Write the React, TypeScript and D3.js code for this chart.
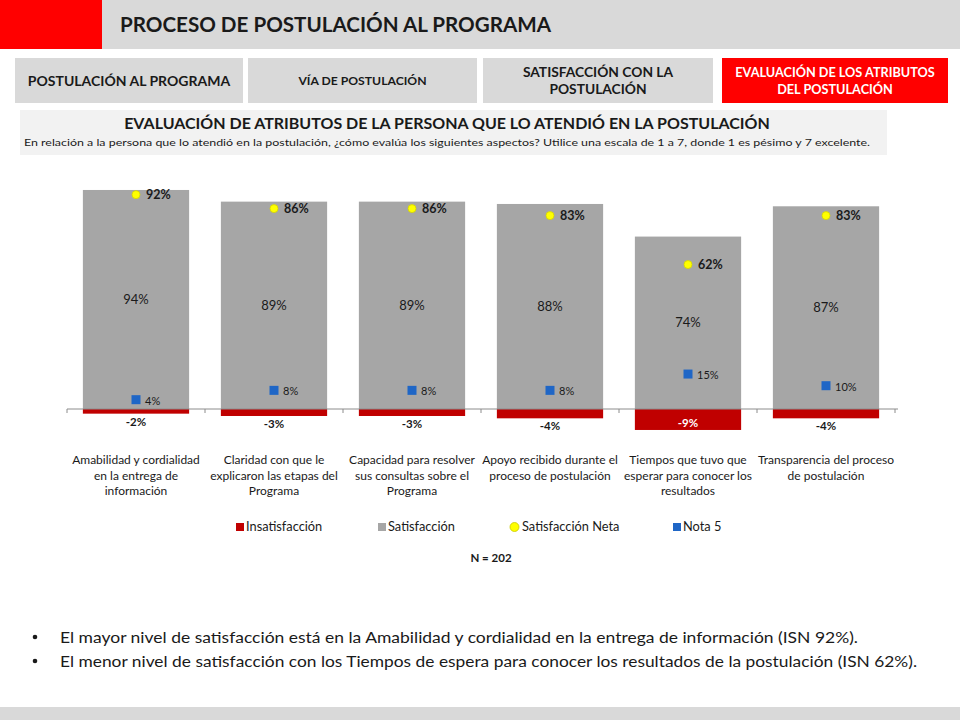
import React from "react";
import * as d3 from "d3";

const categories: string[][] = [
  ["Amabilidad y cordialidad", "en la entrega de", "información"],
  ["Claridad con que le", "explicaron las etapas del", "Programa"],
  ["Capacidad para resolver", "sus consultas sobre el", "Programa"],
  ["Apoyo recibido durante el", "proceso de postulación"],
  ["Tiempos que tuvo que", "esperar para conocer los", "resultados"],
  ["Transparencia del proceso", "de postulación"],
];
const insatisfaccion = [-2, -3, -3, -4, -9, -4];
const satisfaccion = [94, 89, 89, 88, 74, 87];
const satisfaccionNeta = [92, 86, 86, 83, 62, 83];
const nota5 = [4, 8, 8, 8, 15, 10];

const tabs: string[][] = [
  ["POSTULACIÓN AL PROGRAMA"],
  ["VÍA DE POSTULACIÓN"],
  ["SATISFACCIÓN CON LA", "POSTULACIÓN"],
  ["EVALUACIÓN DE LOS ATRIBUTOS", "DEL POSTULACIÓN"],
];
const legendItems = ["Insatisfacción", "Satisfacción", "Satisfacción Neta", "Nota 5"];
const bullets = [
  "El mayor nivel de satisfacción está en la Amabilidad y cordialidad en la entrega de información (ISN 92%).",
  "El menor nivel de satisfacción con los Tiempos de espera para conocer los resultados de la postulación (ISN 62%).",
];

const FONT = "Lato, 'Open Sans', sans-serif";
const RED = "#c00000";
const GRAY = "#a6a6a6";
const YELLOW = "#ffff00";
const BLUE = "#1f66c6";

export default function App() {
  const idx = categories.map((_, i) => String(i));
  const x = d3.scaleBand<string>().domain(idx).range([67, 895]).paddingInner(0.23).paddingOuter(0.115);
  const y = d3.scaleLinear().domain([0, 100]).range([409, 176]);
  const bw = x.bandwidth();
  const fmt = (v: number) => `${v}%`;

  const tabRects = [
    { x0: 15, x1: 243, active: false, size: 14 },
    { x0: 248, x1: 477, active: false, size: 12.2 },
    { x0: 483, x1: 713, active: false, size: 13.8 },
    { x0: 722, x1: 948, active: true, size: 12.7 },
  ];

  const legendX = [236, 378, 510, 673];

  return (
    <div style={{ position: "fixed", left: 0, top: 0 }}>
      <svg width={960} height={720} style={{ display: "block", background: "#fff" }} fontFamily={FONT}>
        {/* header */}
        <rect x={0} y={0} width={960} height={49} fill="#d9d9d9" />
        <rect x={0} y={0} width={102} height={49} fill="#ff0000" />
        <text x={120} y={32} fontSize={20} fontWeight="bold" fill="#1a1a1a" textLength={431} lengthAdjust="spacingAndGlyphs">
          PROCESO DE POSTULACIÓN AL PROGRAMA
        </text>

        {/* tabs */}
        {tabs.map((lines, i) => {
          const t = tabRects[i];
          const cx = (t.x0 + t.x1) / 2;
          const lh = 17;
          const startY = 81 - ((lines.length - 1) * lh) / 2;
          return (
            <g key={i}>
              <rect x={t.x0} y={58} width={t.x1 - t.x0} height={45} fill={t.active ? "#ff0000" : "#d9d9d9"} />
              {lines.map((l, j) => (
                <text key={j} x={cx} y={startY + j * lh} dy="0.35em" textAnchor="middle" fontSize={t.size}
                  fontWeight="bold" fill={t.active ? "#ffffff" : "#1a1a1a"}>
                  {l}
                </text>
              ))}
            </g>
          );
        })}

        {/* subtitle box */}
        <rect x={20} y={110} width={867} height={45} fill="#f2f2f2" />
        <text x={447} y={123} dy="0.35em" textAnchor="middle" fontSize={16} fontWeight="bold" fill="#1a1a1a">
          EVALUACIÓN DE ATRIBUTOS DE LA PERSONA QUE LO ATENDIÓ EN LA POSTULACIÓN
        </text>
        <text x={24} y={142} dy="0.35em" fontSize={10} fill="#1a1a1a" textLength={846} lengthAdjust="spacingAndGlyphs">
          En relación a la persona que lo atendió en la postulación, ¿cómo evalúa los siguientes aspectos? Utilice una escala de 1 a 7, donde 1 es pésimo y 7 excelente.
        </text>

        {/* bars */}
        {idx.map((k, i) => {
          const bx = x(k)!;
          const cx = bx + bw / 2;
          const neg = insatisfaccion[i];
          const negTop = y(0);
          const negBot = y(neg);
          const negH = negBot - negTop;
          const inside = negH > 15;
          return (
            <g key={k}>
              <rect x={bx} y={y(satisfaccion[i])} width={bw} height={y(0) - y(satisfaccion[i])} fill={GRAY} />
              <rect x={bx} y={negTop} width={bw} height={negH} fill={RED} />
              <text x={cx} y={(y(satisfaccion[i]) + y(0)) / 2} dy="0.35em" textAnchor="middle" fontSize={13} fill="#1a1a1a">
                {fmt(satisfaccion[i])}
              </text>
              <text x={cx} y={inside ? (negTop + negBot) / 2 + 3 : negBot + 8} dy="0.35em" textAnchor="middle"
                fontSize={11.5} fontWeight="bold" fill={inside ? "#ffffff" : "#1a1a1a"}>
                {fmt(neg)}
              </text>
            </g>
          );
        })}

        {/* axis */}
        <line x1={67} x2={898} y1={409} y2={409} stroke="#8c8c8c" strokeWidth={1} />
        {d3.range(categories.length + 1).map((i) => {
          const tx = 67 + i * x.step();
          return <line key={i} x1={tx} x2={tx} y1={409} y2={413} stroke="#8c8c8c" strokeWidth={1} />;
        })}

        {/* markers */}
        {idx.map((k, i) => {
          const cx = x(k)! + bw / 2;
          return (
            <g key={"m" + k}>
              <circle cx={cx} cy={y(satisfaccionNeta[i])} r={4} fill={YELLOW} stroke="#d4d400" strokeWidth={0.8} />
              <text x={cx + 10} y={y(satisfaccionNeta[i])} dy="0.35em" fontSize={12.5} fontWeight="bold" fill="#1a1a1a">
                {fmt(satisfaccionNeta[i])}
              </text>
              <rect x={cx - 4.5} y={y(nota5[i]) - 4.5} width={9} height={9} fill={BLUE} />
              <text x={cx + 9} y={y(nota5[i]) + 1} dy="0.35em" fontSize={11} fill="#1a1a1a">
                {fmt(nota5[i])}
              </text>
            </g>
          );
        })}

        {/* category labels */}
        {idx.map((k, i) => {
          const cx = x(k)! + bw / 2;
          return (
            <text key={"c" + k} textAnchor="middle" fontSize={12} fill="#1a1a1a">
              {categories[i].map((l, j) => (
                <tspan key={j} x={cx} y={460 + j * 15.5} dy="0.35em">
                  {l}
                </tspan>
              ))}
            </text>
          );
        })}

        {/* legend */}
        {legendItems.map((name, i) => {
          const lx = legendX[i];
          const ly = 527;
          return (
            <g key={name}>
              {i === 2 ? (
                <circle cx={lx + 4.5} cy={ly} r={4.5} fill={YELLOW} stroke="#c8c800" strokeWidth={0.8} />
              ) : (
                <rect x={lx} y={ly - 4} width={8} height={8} fill={i === 0 ? RED : i === 1 ? GRAY : BLUE} />
              )}
              <text x={lx + (i === 2 ? 12 : 10)} y={ly} dy="0.35em" fontSize={12.8} fill="#1a1a1a">
                {name}
              </text>
            </g>
          );
        })}
        <text x={491} y={558} dy="0.35em" textAnchor="middle" fontSize={11.5} fontWeight="bold" fill="#1a1a1a">
          N = 202
        </text>

        {/* bullets */}
        {bullets.map((b, i) => (
          <g key={i}>
            <circle cx={35} cy={637 + i * 24} r={2.3} fill="#1a1a1a" />
            <text x={60} y={637 + i * 24} dy="0.35em" fontSize={16} fill="#1a1a1a"
              textLength={i === 0 ? 798 : 857} lengthAdjust="spacingAndGlyphs">
              {b}
            </text>
          </g>
        ))}

        {/* footer band */}
        <rect x={0} y={707} width={960} height={13} fill="#d9d9d9" />
      </svg>
    </div>
  );
}
